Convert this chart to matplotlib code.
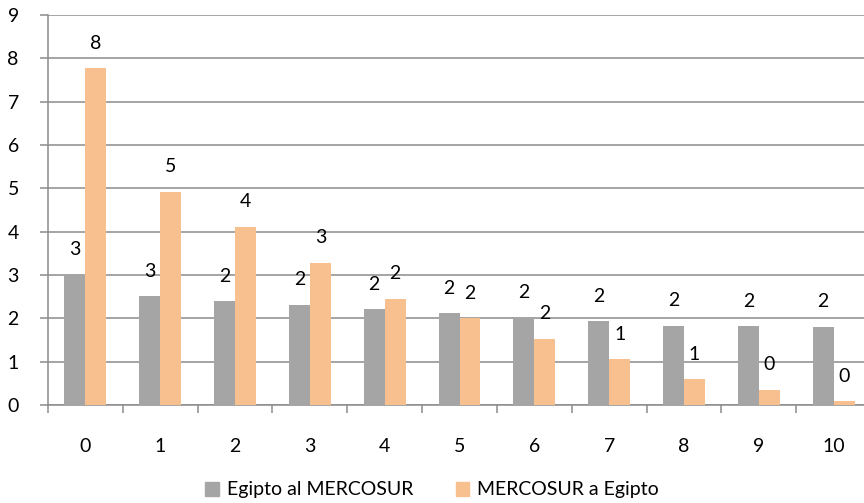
import numpy as np
import matplotlib.pyplot as plt
from matplotlib.patches import Patch

# datos
categorias = [str(i) for i in range(11)]
egipto_al_mercosur = [3.0, 2.51, 2.4, 2.31, 2.21, 2.12, 2.02, 1.93, 1.83, 1.82, 1.81]
mercosur_a_egipto = [7.77, 4.92, 4.11, 3.28, 2.45, 2.0, 1.53, 1.06, 0.6, 0.35, 0.085]
nombres = ["Egipto al MERCOSUR", "MERCOSUR a Egipto"]
colores = ["#a5a5a5", "#f9c08f"]


def main():
    plt.rcParams["font.family"] = ["Lato", "DejaVu Sans"]

    fig = plt.figure(figsize=(8.64, 5.03), dpi=100)
    # el eje se sale un poco por la derecha, igual que en el original
    ax = fig.add_axes([48 / 864, 1 - 405 / 503, 823 / 864, 390 / 503])

    x = np.arange(len(categorias))
    w = 0.28
    series = [egipto_al_mercosur, mercosur_a_egipto]
    for k, vals in enumerate(series):
        pos = x + (k - 0.5) * w
        ax.bar(pos, vals, width=w, color=colores[k], zorder=3)
        for xp, v in zip(pos, vals):
            ax.annotate(str(int(np.floor(v + 0.5))), xy=(xp, v), xytext=(0, 18),
                        textcoords="offset points", ha="center", va="center",
                        fontsize=14, color="black", zorder=4)

    ax.set_xlim(-0.5, 10.5)
    ax.set_ylim(0, 9)
    ax.set_yticks(range(10))
    ax.yaxis.grid(True, color="#8c8c8c", lw=1.1, zorder=0)

    # ticks en los bordes de cada categoria, etiquetas en el centro
    ax.set_xticks(np.arange(-0.5, 10.6, 1))
    ax.set_xticklabels([])
    ax.set_xticks(x, minor=True)
    ax.set_xticklabels(categorias, minor=True)
    ax.tick_params(axis="x", which="major", length=6, width=1.1, color="#8c8c8c", direction="out")
    ax.tick_params(axis="x", which="minor", length=0, pad=24, labelsize=14)
    ax.tick_params(axis="y", length=6, width=1.1, color="#8c8c8c", pad=15, labelsize=14)

    for s in ["top", "right"]:
        ax.spines[s].set_visible(False)
    for s in ["left", "bottom"]:
        ax.spines[s].set_color("#8c8c8c")
        ax.spines[s].set_linewidth(1.1)

    handles = [Patch(color=c, label=n) for c, n in zip(colores, nombres)]
    fig.legend(handles=handles, loc="center", bbox_to_anchor=(0.5, 1 - 490 / 503),
               ncol=2, frameon=False, fontsize=14, handlelength=0.7, handleheight=0.7,
               handletextpad=0.4, columnspacing=2.2)

    fig.savefig("out.png", dpi=100)


if __name__ == "__main__":
    main()
